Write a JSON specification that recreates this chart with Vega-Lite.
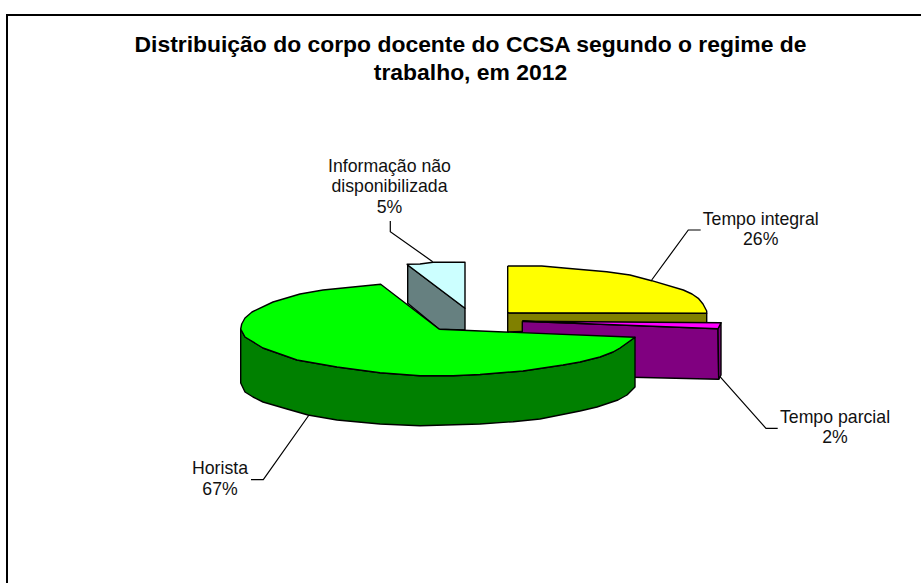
{
"$schema":"https://vega.github.io/schema/vega-lite/v6.json",
"width":921,"height":583,"padding":0,"autosize":{"type":"none"},"background":"white",
"config":{"view":{"stroke":null}},
"datasets":{
"faces":[
{"p":"integral lado","n":1,"x":507.7,"y":312.7},{"p":"integral lado","n":2,"x":706.7,"y":313.3},{"p":"integral lado","n":3,"x":706.7,"y":325},{"p":"integral lado","n":4,"x":507.7,"y":332},{"p":"integral lado","n":5,"x":507.7,"y":312.7},
{"p":"integral topo","n":1,"x":507.7,"y":266},{"p":"integral topo","n":2,"x":541.7,"y":266},{"p":"integral topo","n":3,"x":566.7,"y":268.3},{"p":"integral topo","n":4,"x":606.7,"y":271.7},{"p":"integral topo","n":5,"x":630,"y":275},{"p":"integral topo","n":6,"x":651.7,"y":280.7},{"p":"integral topo","n":7,"x":683.3,"y":290},{"p":"integral topo","n":8,"x":692,"y":294},{"p":"integral topo","n":9,"x":698.3,"y":298.3},{"p":"integral topo","n":10,"x":703,"y":304},{"p":"integral topo","n":11,"x":706.7,"y":311},{"p":"integral topo","n":12,"x":706.7,"y":313.3},{"p":"integral topo","n":13,"x":507.7,"y":312.7},{"p":"integral topo","n":14,"x":507.7,"y":266},
{"p":"parcial frente","n":1,"x":522.3,"y":321.3},{"p":"parcial frente","n":2,"x":718,"y":328.7},{"p":"parcial frente","n":3,"x":718.7,"y":379.3},{"p":"parcial frente","n":4,"x":600,"y":376.5},{"p":"parcial frente","n":5,"x":522.3,"y":372},{"p":"parcial frente","n":6,"x":522.3,"y":321.3},
{"p":"parcial lado","n":1,"x":718,"y":328.7},{"p":"parcial lado","n":2,"x":721,"y":322.7},{"p":"parcial lado","n":3,"x":721,"y":375},{"p":"parcial lado","n":4,"x":718.7,"y":379.3},{"p":"parcial lado","n":5,"x":718,"y":328.7},
{"p":"parcial topo","n":1,"x":522.3,"y":321.3},{"p":"parcial topo","n":2,"x":721,"y":322.7},{"p":"parcial topo","n":3,"x":718,"y":328.7},{"p":"parcial topo","n":4,"x":522.3,"y":321.3},
{"p":"info lado","n":1,"x":407.7,"y":265},{"p":"info lado","n":2,"x":465,"y":308.3},{"p":"info lado","n":3,"x":465,"y":330},{"p":"info lado","n":4,"x":439.3,"y":329.3},{"p":"info lado","n":5,"x":407.7,"y":303.3},{"p":"info lado","n":6,"x":407.7,"y":265},
{"p":"info topo","n":1,"x":406.7,"y":264.3},{"p":"info topo","n":2,"x":420,"y":264},{"p":"info topo","n":3,"x":433,"y":262.3},{"p":"info topo","n":4,"x":465,"y":262.3},{"p":"info topo","n":5,"x":465,"y":308.3},{"p":"info topo","n":6,"x":406.7,"y":264.3},
{"p":"horista lado","n":1,"x":240.7,"y":329},{"p":"horista lado","n":2,"x":245,"y":337},{"p":"horista lado","n":3,"x":250,"y":340},{"p":"horista lado","n":4,"x":263,"y":348},{"p":"horista lado","n":5,"x":280,"y":354},{"p":"horista lado","n":6,"x":297,"y":360},{"p":"horista lado","n":7,"x":337,"y":367},{"p":"horista lado","n":8,"x":380,"y":372.7},{"p":"horista lado","n":9,"x":420,"y":375.7},{"p":"horista lado","n":10,"x":453,"y":375.7},{"p":"horista lado","n":11,"x":480,"y":374.5},{"p":"horista lado","n":12,"x":523,"y":371},{"p":"horista lado","n":13,"x":563,"y":365},{"p":"horista lado","n":14,"x":580,"y":362},{"p":"horista lado","n":15,"x":600,"y":357},{"p":"horista lado","n":16,"x":613,"y":352},{"p":"horista lado","n":17,"x":620,"y":348},{"p":"horista lado","n":18,"x":627,"y":343},{"p":"horista lado","n":19,"x":635,"y":337.3},{"p":"horista lado","n":20,"x":635,"y":387},{"p":"horista lado","n":21,"x":627,"y":395},{"p":"horista lado","n":22,"x":618,"y":400},{"p":"horista lado","n":23,"x":597,"y":407},{"p":"horista lado","n":24,"x":580,"y":411},{"p":"horista lado","n":25,"x":560,"y":415},{"p":"horista lado","n":26,"x":540,"y":419},{"p":"horista lado","n":27,"x":513,"y":421.7},{"p":"horista lado","n":28,"x":480,"y":424},{"p":"horista lado","n":29,"x":420,"y":425.7},{"p":"horista lado","n":30,"x":380,"y":424},{"p":"horista lado","n":31,"x":337,"y":420},{"p":"horista lado","n":32,"x":308,"y":415},{"p":"horista lado","n":33,"x":287,"y":409},{"p":"horista lado","n":34,"x":263,"y":402},{"p":"horista lado","n":35,"x":253,"y":397},{"p":"horista lado","n":36,"x":245,"y":392},{"p":"horista lado","n":37,"x":240.7,"y":383},{"p":"horista lado","n":38,"x":240.7,"y":329},
{"p":"horista topo","n":1,"x":439.3,"y":329.3},{"p":"horista topo","n":2,"x":635,"y":337.3},{"p":"horista topo","n":3,"x":627,"y":343},{"p":"horista topo","n":4,"x":620,"y":348},{"p":"horista topo","n":5,"x":613,"y":352},{"p":"horista topo","n":6,"x":600,"y":357},{"p":"horista topo","n":7,"x":580,"y":362},{"p":"horista topo","n":8,"x":563,"y":365},{"p":"horista topo","n":9,"x":523,"y":371},{"p":"horista topo","n":10,"x":480,"y":374.5},{"p":"horista topo","n":11,"x":453,"y":375.7},{"p":"horista topo","n":12,"x":420,"y":375.7},{"p":"horista topo","n":13,"x":380,"y":372.7},{"p":"horista topo","n":14,"x":337,"y":367},{"p":"horista topo","n":15,"x":297,"y":360},{"p":"horista topo","n":16,"x":280,"y":354},{"p":"horista topo","n":17,"x":263,"y":348},{"p":"horista topo","n":18,"x":250,"y":340},{"p":"horista topo","n":19,"x":245,"y":337},{"p":"horista topo","n":20,"x":240.7,"y":329},{"p":"horista topo","n":21,"x":241.7,"y":324},{"p":"horista topo","n":22,"x":245,"y":318},{"p":"horista topo","n":23,"x":252,"y":312},{"p":"horista topo","n":24,"x":273,"y":302},{"p":"horista topo","n":25,"x":300,"y":294},{"p":"horista topo","n":26,"x":323,"y":290},{"p":"horista topo","n":27,"x":353,"y":287},{"p":"horista topo","n":28,"x":380.7,"y":284.3},{"p":"horista topo","n":29,"x":439.3,"y":329.3}
],
"leaders":[
{"p":"info","n":1,"x":390.3,"y":221},{"p":"info","n":2,"x":390.3,"y":231.7},{"p":"info","n":3,"x":432.7,"y":261.7},
{"p":"integral","n":1,"x":700.7,"y":230},{"p":"integral","n":2,"x":688.3,"y":230},{"p":"integral","n":3,"x":651.7,"y":280},
{"p":"parcial","n":1,"x":720,"y":376.7},{"p":"parcial","n":2,"x":766,"y":428.3},{"p":"parcial","n":3,"x":777.7,"y":428.3},
{"p":"horista","n":1,"x":251,"y":479.7},{"p":"horista","n":2,"x":263.3,"y":479.7},{"p":"horista","n":3,"x":309,"y":415}
],
"frame":[{"n":1,"x":7,"y":583},{"n":2,"x":7,"y":15},{"n":3,"x":921,"y":15}],
"labels":[
{"t":"Informação não","x":389.5,"y":172},{"t":"disponibilizada","x":389.5,"y":192},{"t":"5%","x":389.5,"y":213},
{"t":"Tempo integral","x":760.7,"y":225},{"t":"26%","x":760.7,"y":245},
{"t":"Tempo parcial","x":835,"y":423},{"t":"2%","x":835,"y":443},
{"t":"Horista","x":220,"y":474},{"t":"67%","x":220,"y":495}
],
"title":[
{"t":"Distribuição do corpo docente do CCSA segundo o regime de","x":470.5,"y":52},
{"t":"trabalho, em 2012","x":470.5,"y":80}
]
},
"layer":[
{"data":{"name":"frame"},"mark":{"type":"line","stroke":"#000","strokeWidth":2},
 "encoding":{"x":{"field":"x","type":"quantitative","scale":{"domain":[0,921],"nice":false,"zero":false},"axis":null},
 "y":{"field":"y","type":"quantitative","scale":{"domain":[583,0],"nice":false,"zero":false},"axis":null},
 "order":{"field":"n","type":"quantitative"}}},
{"data":{"name":"leaders"},"mark":{"type":"line","stroke":"#000","strokeWidth":1.2},
 "encoding":{"x":{"field":"x","type":"quantitative"},"y":{"field":"y","type":"quantitative"},
 "detail":{"field":"p"},"order":{"field":"n","type":"quantitative"}}},
{"data":{"name":"faces"},"mark":{"type":"line","stroke":"#000","strokeWidth":1.4,"strokeJoin":"round"},
 "encoding":{"x":{"field":"x","type":"quantitative"},"y":{"field":"y","type":"quantitative"},
 "order":{"field":"n","type":"quantitative"},
 "fill":{"field":"p","type":"nominal","legend":null,"scale":{
   "domain":["integral lado","integral topo","parcial frente","parcial lado","parcial topo","info lado","info topo","horista lado","horista topo"],
   "range":["#808000","#FFFF00","#800080","#800080","#FF00FF","#668080","#CCFFFF","#008000","#00FF00"]}}}},
{"data":{"name":"labels"},"mark":{"type":"text","font":"Liberation Sans","fontSize":17.7,"align":"center","baseline":"alphabetic","color":"#111"},
 "encoding":{"x":{"field":"x","type":"quantitative"},"y":{"field":"y","type":"quantitative"},"text":{"field":"t"}}},
{"data":{"name":"title"},"mark":{"type":"text","font":"Liberation Sans","fontSize":22.9,"fontWeight":"bold","align":"center","baseline":"alphabetic","color":"#000"},
 "encoding":{"x":{"field":"x","type":"quantitative"},"y":{"field":"y","type":"quantitative"},"text":{"field":"t"}}}
]
}
